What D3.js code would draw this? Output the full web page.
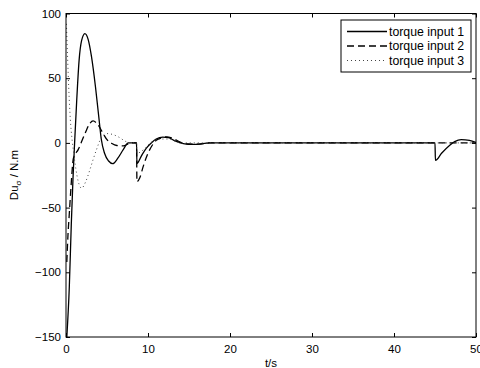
<!DOCTYPE html>
<html><head><meta charset="utf-8">
<script src="https://cdn.jsdelivr.net/npm/d3@7"></script>
<style>body{margin:0;background:#fff;} svg{display:block;font-family:"Liberation Sans",Arial,sans-serif;}</style>
</head><body>
<svg id="c" width="480" height="368"></svg>
<script>
const xTicks = [0,10,20,30,40,50];
const yTicks = [100,50,0,-50,-100,-150];
const seriesNames = ["torque input 1","torque input 2","torque input 3"];
const input1 = [[0.1,-150],[0.4,-112],[0.65,-62],[0.85,-28],[1.05,0],[1.3,32],[1.6,64],[1.9,79],[2.3,84.5],[2.7,80],[3.1,67],[3.6,43],[4.0,20],[4.3,3],[4.7,-8],[5.2,-14],[5.7,-16],[6.3,-12],[7.0,-5],[7.6,0],[8.6,0],[8.65,-16],[9.2,-10],[9.8,-4],[10.4,0],[11.0,3],[11.8,4.5],[12.5,4],[13.3,1.5],[14.3,-0.5],[15.5,-1.2],[16.5,-0.8],[17.5,0],[45.0,0],[45.05,-13.5],[45.8,-8],[46.8,-1.8],[47.4,1],[48.2,2.6],[49.2,2],[50,0.3]];
const input2 = [[0.1,-92],[0.25,-70],[0.4,-55],[0.6,-35],[0.9,-12],[1.5,-5],[2.3,7],[2.9,15],[3.3,17],[3.9,14],[4.55,7],[5.0,2.5],[5.6,-0.5],[6.2,-2],[7.0,-2.3],[7.5,-1],[7.8,0],[8.6,0],[8.65,-30],[9.0,-27],[9.4,-18.5],[10.0,-8],[10.5,-2],[11.0,2],[11.7,4],[12.3,4.7],[13.0,3.5],[14.0,0.5],[15.0,-0.8],[16.0,-1],[17.5,0],[50,0]];
const input3 = [[0.05,92],[0.2,65],[0.33,43],[0.53,18],[0.75,2],[0.94,-8],[1.2,-20],[1.5,-30],[1.9,-35],[2.4,-30],[2.9,-21],[3.3,-13],[3.7,-5.5],[4.35,4.5],[4.95,7.2],[5.7,6.5],[6.4,4.6],[7.4,0.8],[8.0,0],[8.6,0],[8.65,-8],[9.5,-5],[10.3,0],[11.5,3],[12.5,3],[14,0],[50,0]];

const svg = d3.select("#c");
const L=66, R=476, T=13.5, B=337;
const x = d3.scaleLinear().domain([0,50]).range([L,R]);
const y = d3.scaleLinear().domain([-150,100]).range([B,T]);

const g = svg.append("g");
svg.append("clipPath").attr("id","cp").append("rect").attr("x",L).attr("y",T).attr("width",R-L).attr("height",B-T);

const line = d3.line().x(d=>x(d[0])).y(d=>y(d[1])).curve(d3.curveMonotoneX);
const styles = [{dash:null,w:1.3,c:"#000"},{dash:"7,4",w:1.3,c:"#000"},{dash:"1,3",w:1,c:"#444"}];
[input1,input2,input3].forEach((s,i)=>{
  g.append("path").attr("d",line(s)).attr("fill","none").attr("stroke",styles[i].c)
   .attr("stroke-width",styles[i].w).attr("stroke-dasharray",styles[i].dash).attr("clip-path","url(#cp)");
});

const fs = 11.5;
const xb = svg.append("g").attr("transform",`translate(0,${B})`).call(d3.axisBottom(x).tickValues(xTicks).tickSizeInner(-4).tickSizeOuter(0).tickPadding(8));
const xt = svg.append("g").attr("transform",`translate(0,${T})`).call(d3.axisTop(x).tickValues(xTicks).tickSizeInner(-4).tickSizeOuter(0).tickFormat(""));
const yl = svg.append("g").attr("transform",`translate(${L},0)`).call(d3.axisLeft(y).tickValues(yTicks).tickSizeInner(-4).tickSizeOuter(0).tickPadding(5).tickFormat(d=>d<0?"\u2212"+(-d):d));
const yr = svg.append("g").attr("transform",`translate(${R},0)`).call(d3.axisRight(y).tickValues(yTicks).tickSizeInner(-4).tickSizeOuter(0).tickFormat(""));
[xb,xt,yl,yr].forEach(a=>{a.select(".domain").remove();a.selectAll("line").attr("stroke","#000");a.selectAll("text").attr("font-size",fs).attr("fill","#000").style("font-family","'Liberation Sans',Arial,sans-serif");});
svg.append("rect").attr("x",L).attr("y",T).attr("width",R-L).attr("height",B-T).attr("fill","none").attr("stroke","#000").attr("stroke-width",1);

svg.append("text").attr("x",(L+R)/2).attr("y",367).attr("text-anchor","middle").attr("font-size",fs).text("t/s");
const ylab = svg.append("text").attr("transform","translate(18,175) rotate(-90)").attr("text-anchor","middle").attr("font-size",fs);
ylab.append("tspan").text("Du");
ylab.append("tspan").attr("font-size",8).attr("dy",3).text("σ");
ylab.append("tspan").attr("dy",-3).text(" / N.m");

const lg = svg.append("g");
const lx=341, ly=20, lw=130, lh=52;
lg.append("rect").attr("x",lx).attr("y",ly).attr("width",lw).attr("height",lh).attr("fill","#fff").attr("stroke","#000");
seriesNames.forEach((n,i)=>{
  const yy = ly+11.5+i*14.5;
  lg.append("line").attr("x1",lx+6).attr("x2",lx+46).attr("y1",yy).attr("y2",yy).attr("stroke",styles[i].c).attr("stroke-width",styles[i].w).attr("stroke-dasharray",styles[i].dash);
  lg.append("text").attr("x",lx+48).attr("y",yy+4.2).attr("font-size",12.3).text(n);
});
</script>
</body></html>
